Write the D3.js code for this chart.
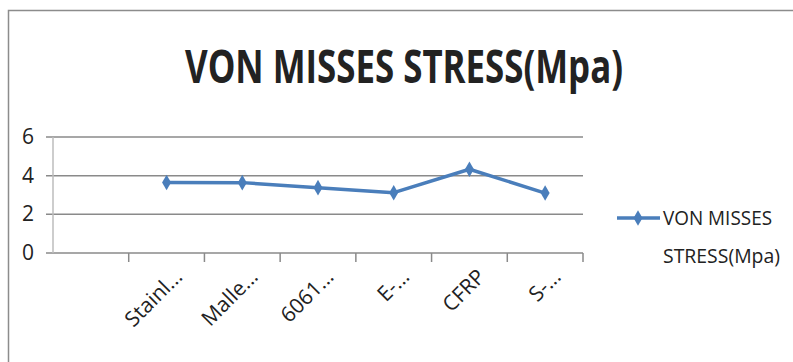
<!DOCTYPE html>
<html>
<head>
<meta charset="utf-8">
<script src="https://cdn.jsdelivr.net/npm/d3@7"></script>
<style>
  body { margin: 0; background: #fff; }
  svg text { font-family: "Liberation Sans Narrow", "Open Sans", "DejaVu Sans Condensed", sans-serif; fill: #222; }
</style>
</head>
<body>
<div id="chart"></div>
<script>
// Dados

let categorias = ["", "Stainl...", "Malle...", "6061...", "E-...", "CFRP", "S-..."];
let valores = [null, 3.65, 3.64, 3.38, 3.12, 4.33, 3.1];
let ticks_y = [0, 2, 4, 6];
let titulo = "VON MISSES STRESS(Mpa)";
let legenda = ["VON MISSES", "STRESS(Mpa)"];

// Canvas

let largura = 793;
let altura = 362;
let cor = "#4a7ebb";

let svg = d3.select('#chart')
    .append('svg')
    .attr('width', largura)
    .attr('height', altura);

// borda do gráfico (cortada à direita e embaixo)
svg.append('rect')
    .attr('x', 8.5).attr('y', 10.5)
    .attr('width', 800).attr('height', 400)
    .attr('fill', 'none')
    .attr('stroke', '#8c8c8c')
    .attr('stroke-width', 1.5);

// Escalas

let escala_x = d3.scaleBand()
    .domain(d3.range(categorias.length))
    .range([53, 583])
    .padding(0);

let escala_y = d3.scaleLinear()
    .domain([0, 6])
    .range([253, 137]);

// Título

svg.append('text')
    .attr('x', 404)
    .attr('y', 83)
    .attr('text-anchor', 'middle')
    .attr('font-size', 47)
    .attr('font-weight', 'bold')
    .attr('textLength', 438)
    .attr('lengthAdjust', 'spacingAndGlyphs')
    .text(titulo);

// Grade e eixo y

svg.selectAll('.grade')
    .data(ticks_y)
    .enter()
    .append('line')
    .attr('x1', 46)
    .attr('x2', escala_x.range()[1])
    .attr('y1', d => escala_y(d))
    .attr('y2', d => escala_y(d))
    .attr('stroke', '#8a8a8a')
    .attr('stroke-width', 1.5);

svg.append('line')
    .attr('x1', 53).attr('x2', 53)
    .attr('y1', escala_y(6)).attr('y2', escala_y(0))
    .attr('stroke', '#bdbdbd')
    .attr('stroke-width', 1.5);

svg.selectAll('.rotulo_y')
    .data(ticks_y)
    .enter()
    .append('text')
    .attr('x', 34)
    .attr('y', d => escala_y(d) + 7)
    .attr('text-anchor', 'end')
    .attr('font-size', 21)
    .text(d => d);

// Eixo x: marcas entre categorias

let divisoes = d3.range(1, categorias.length + 1).map(i => escala_x.range()[0] + i * escala_x.step());

svg.selectAll('.marca_x')
    .data(divisoes)
    .enter()
    .append('line')
    .attr('x1', d => d).attr('x2', d => d)
    .attr('y1', escala_y(0)).attr('y2', escala_y(0) + 9)
    .attr('stroke', '#8a8a8a')
    .attr('stroke-width', 1.5);

svg.selectAll('.rotulo_x')
    .data(categorias)
    .enter()
    .append('text')
    .attr('text-anchor', 'end')
    .attr('font-size', 21)
    .attr('transform', (d, i) => `translate(${escala_x(i) + escala_x.bandwidth() / 2 + 17}, 278) rotate(-45)`)
    .text(d => d);

// Linha

let pontos = valores.map((v, i) => ({i: i, v: v})).filter(d => d.v !== null);

let linha = d3.line()
    .x(d => escala_x(d.i) + escala_x.bandwidth() / 2)
    .y(d => escala_y(d.v));

svg.append('path')
    .datum(pontos)
    .attr('d', linha)
    .attr('fill', 'none')
    .attr('stroke', cor)
    .attr('stroke-width', 3.5)
    .attr('stroke-linejoin', 'round');

let losango = d3.symbol().type(d3.symbolDiamond).size(70);

svg.selectAll('.marcador')
    .data(pontos)
    .enter()
    .append('path')
    .attr('d', losango)
    .attr('transform', d => `translate(${escala_x(d.i) + escala_x.bandwidth() / 2}, ${escala_y(d.v)})`)
    .attr('fill', cor);

// Legenda

svg.append('line')
    .attr('x1', 617).attr('x2', 660)
    .attr('y1', 218).attr('y2', 218)
    .attr('stroke', cor)
    .attr('stroke-width', 3.5);

svg.append('path')
    .attr('d', losango)
    .attr('transform', 'translate(638, 218)')
    .attr('fill', cor);

svg.selectAll('.legenda')
    .data(legenda)
    .enter()
    .append('text')
    .attr('x', 663)
    .attr('y', (d, i) => 225 + i * 38)
    .attr('font-size', 20)
    .attr('textLength', (d, i) => i === 0 ? 109 : 117)
    .attr('lengthAdjust', 'spacingAndGlyphs')
    .text(d => d);
</script>
</body>
</html>
